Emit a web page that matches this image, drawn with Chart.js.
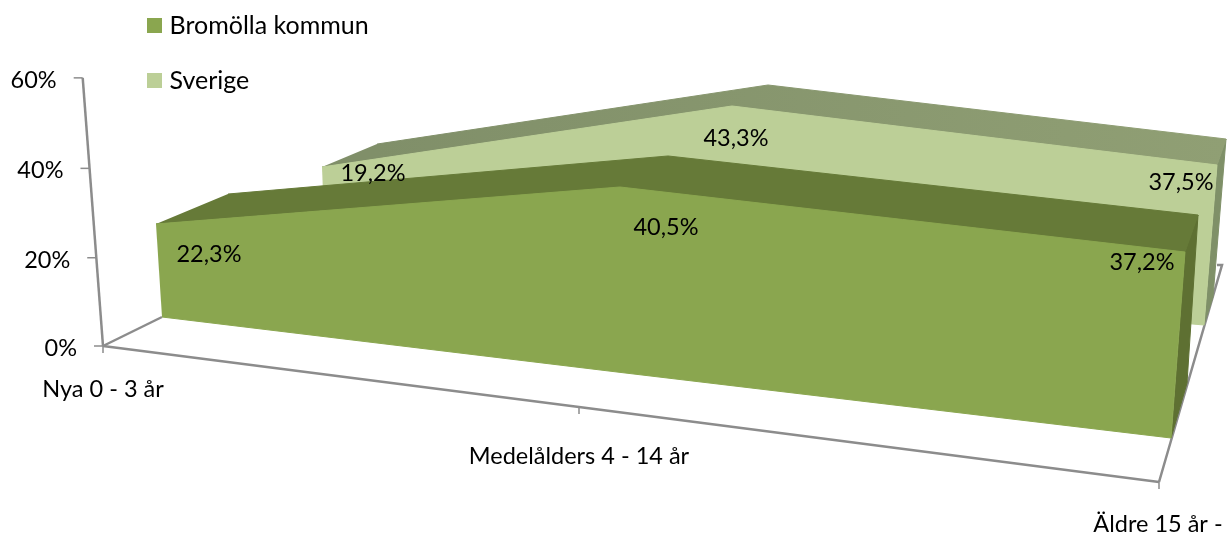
<!DOCTYPE html>
<html>
<head>
<meta charset="utf-8">
<style>html,body{margin:0;padding:0;background:#fff}canvas{display:block}</style>
<script src="https://cdn.jsdelivr.net/npm/chart.js@4"></script>
</head>
<body>
<canvas id="c" width="1229" height="534"></canvas>
<script>
// ---- data ----
const categories = ['Nya 0 - 3 år', 'Medelålders 4 - 14 år', 'Äldre 15 år -'];
const bromolla = [22.3, 40.5, 37.2];
const sverige = [19.2, 43.3, 37.5];
const valueTicks = [0, 20, 40, 60];
const seriesNames = ['Bromölla kommun', 'Sverige'];

// ---- 3D projection: for each slice and category, floor point and the screen vector of 1 % ----
const SLICES = {
  bromFront: [[162,317,-0.269,-4.170],[617,372,0.074,-4.568],[1171,438,0.376,-5.0]],
  bromBack:  [[232,281,-0.18,-3.90],[666,326,0.05,-4.198],[1187,383,0.296,-4.516]],
  svFront:   [[325,246,-0.156,-4.115],[730,284,0.046,-4.111],[1204,325,0.347,-4.267]],
  svBack:    [[380,222,-0.156,-4.06],[766,262,0.046,-4.088],[1213,297,0.347,-4.213]]
};
const project = (slice, cat, v) => {
  const a = SLICES[slice][cat];
  return {x: a[0] + a[2] * v, y: a[1] + a[3] * v};
};
const wall = v => ({x: 103 - 20.3 * v / 60, y: 346 - v * (4.385 + 0.0014 * v)});
const floorFront = [{x:103,y:346},{x:579,y:407},{x:1159,y:482}];
const FLOOR_BACK_LEFT = {x:162,y:317};
const FLOOR_BACK_RIGHT = {x:1222,y:265};
const WALL_FOOT_RIGHT = {x:1217,y:265};

const frontFace = (s, vals) => [
  ...vals.map((v,i) => project(s,i,v)),
  ...vals.map((v,i) => project(s,i,0)).reverse()
];
const topFace = (f, b, vals) => [
  ...vals.map((v,i) => project(f,i,v)),
  ...vals.map((v,i) => project(b,i,v)).reverse()
];
const sideFace = (f, b, vals) => {
  const l = vals.length - 1;
  return [project(f,l,vals[l]), project(b,l,vals[l]), project(b,l,0), project(f,l,0)];
};

const canvas = document.getElementById('c');
const svTopGrad = canvas.getContext('2d').createLinearGradient(375, 0, 1226, 0);
svTopGrad.addColorStop(0, '#808f69');
svTopGrad.addColorStop(1, '#909f74');

const C = {
  brom:'#8aa64f', bromTop:'#667a38', bromSide:'#5e7032',
  sv:'#bccf97', svTop:svTopGrad, svSide:'#7f9068',
  axis:'#8c8c8c', text:'#000000'
};
const face = (label, data, color, order) => ({
  label, data, order, showLine:true, fill:'shape', tension:0,
  backgroundColor:color, borderColor:color, borderWidth:1, pointRadius:0, clip:false
});
const rule = (data, order=9, w=2.5) => ({
  data, order, showLine:true, fill:false, tension:0, borderColor:C.axis, borderWidth:w, pointRadius:0, clip:false, backgroundColor:C.axis
});

const datasets = [
  face(seriesNames[0], frontFace('bromFront', bromolla), C.brom, 1),
  face(seriesNames[1], frontFace('svFront', sverige), C.sv, 4),
  face('', topFace('bromFront','bromBack', bromolla), C.bromTop, 2),
  face('', sideFace('bromFront','bromBack', bromolla), C.bromSide, 3),
  face('', topFace('svFront','svBack', sverige), C.svTop, 5),
  face('', sideFace('svFront','svBack', sverige), C.svSide, 6),
  rule([wall(60), wall(0)]),
  rule([floorFront[0], floorFront[1], floorFront[2]]),
  rule([floorFront[0], FLOOR_BACK_LEFT]),
  rule([floorFront[2], FLOOR_BACK_RIGHT, WALL_FOOT_RIGHT]),
  ...valueTicks.map(v => { const p = wall(v); return rule([{x:p.x-9,y:p.y},{x:p.x,y:p.y}], 9, 1.5); }),
  ...floorFront.map(p => rule([p,{x:p.x,y:p.y+7}], 9, 1.5))
];

const FAMILY = 'Lato, Carlito, sans-serif';
const FONT = '23.5px ' + FAMILY;
const LABEL_OFFS = {
  bromFront:[[53,30],[46,40],[-43,10]],
  svFront:[[51,6],[4,32],[-36,17]]
};
const CAT_OFFS = [[0,43],[0,49],[-1,42]];
const textPlugin = {
  id:'texts',
  afterLayout(chart){
    const lg = chart.legend;
    lg.left = 152 - 30; lg.top = -17;
    lg.right = 1229; lg.bottom = 534;
  },
  afterDraw(chart){
    const {ctx, scales:{x,y}} = chart;
    const px = p => [x.getPixelForValue(p.x), y.getPixelForValue(p.y)];
    ctx.save();
    ctx.font = FONT; ctx.fillStyle = C.text; ctx.textBaseline = 'middle';
    ctx.textAlign = 'right';
    valueTicks.forEach(v => {
      const p = wall(v), [a,b] = px(p);
      ctx.fillText(v + '%', a - 26, b + 2.5);
    });
    ctx.textAlign = 'center';
    categories.forEach((c,i) => {
      const [a,b] = px(floorFront[i]);
      ctx.fillText(c, a + CAT_OFFS[i][0], b + CAT_OFFS[i][1]);
    });
    const fmt = v => v.toFixed(1).replace('.', ',') + '%';
    [['svFront',sverige],['bromFront',bromolla]].forEach(([s,vals]) => {
      vals.forEach((v,i) => {
        const [a,b] = px(project(s,i,v));
        ctx.fillText(fmt(v), a + LABEL_OFFS[s][i][0], b + LABEL_OFFS[s][i][1]);
      });
    });
    ctx.restore();
  }
};

new Chart(canvas, {
  type:'scatter',
  data:{datasets},
  plugins:[textPlugin],
  options:{
    responsive:false, animation:false, events:[],
    layout:{padding:0},
    scales:{
      x:{type:'linear', min:0, max:1229, display:false},
      y:{type:'linear', min:0, max:534, reverse:true, display:false}
    },
    plugins:{
      tooltip:{enabled:false},
      legend:{
        position:'chartArea', align:'start',
        labels:{
          boxWidth:5, boxHeight:5, padding:30,
          font:{family:FAMILY, size:25}, color:C.text,
          filter:item => !!item.text,
          generateLabels(chart){
            return Chart.defaults.plugins.legend.labels.generateLabels(chart).map(it => ({...it, lineWidth:10}));
          }
        }
      }
    }
  }
});
</script>
</body>
</html>
